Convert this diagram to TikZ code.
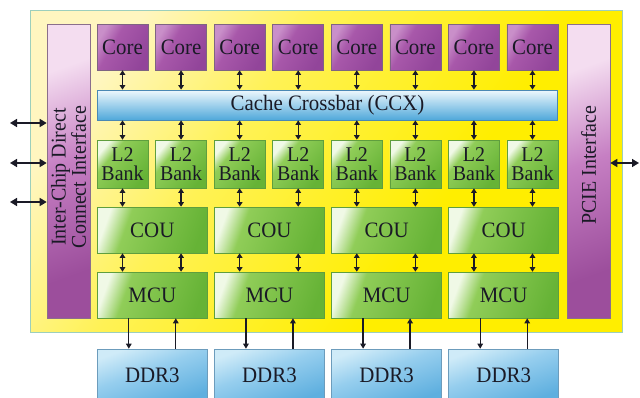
\documentclass[tikz,border=0pt]{standalone}
\usepackage{fontspec}
\setmainfont{Liberation Serif}[FakeStretch=0.95]
\usetikzlibrary{arrows.meta}

% palette
\definecolor{ink}{HTML}{1A1A26}
\definecolor{frameline}{HTML}{9CCFBC}
\definecolor{yA}{HTML}{FFF6C0}
\definecolor{yB}{HTML}{FFF256}
\definecolor{yC}{HTML}{FFEE00}
\definecolor{pbA}{HTML}{F4DDF0}
\definecolor{pbB}{HTML}{C67FC3}
\definecolor{pbC}{HTML}{9C4E9C}
\definecolor{pbline}{HTML}{8A6E8C}
\definecolor{coA}{HTML}{C98FC9}
\definecolor{coB}{HTML}{A858AA}
\definecolor{coC}{HTML}{92459A}
\definecolor{coline}{HTML}{7E6482}
\definecolor{gA}{HTML}{F0F9E6}
\definecolor{gB}{HTML}{90CD58}
\definecolor{gC}{HTML}{66B336}
\definecolor{gline}{HTML}{5F9E3E}
\definecolor{bxA}{HTML}{EEF8FD}
\definecolor{bxB}{HTML}{9FD3F0}
\definecolor{bxC}{HTML}{4FA8DA}
\definecolor{bxline}{HTML}{4A88B4}
\definecolor{dA}{HTML}{CFEBF8}
\definecolor{dB}{HTML}{96CEEE}
\definecolor{dC}{HTML}{5EAFDF}
\definecolor{dline}{HTML}{6C9CBC}

% gradients (path bounding box spans 25bp..75bp)
\pgfdeclarehorizontalshading{yellowfill}{100bp}{color(0bp)=(yA); color(25bp)=(yA); color(40bp)=(yB); color(62bp)=(yC); color(100bp)=(yC)}
\pgfdeclarehorizontalshading{sidefill}{100bp}{color(0bp)=(pbA); color(28bp)=(pbA); color(48bp)=(pbB); color(72bp)=(pbC); color(100bp)=(pbC)}
\pgfdeclarehorizontalshading{corefill}{100bp}{color(0bp)=(coA); color(25bp)=(coA); color(40bp)=(coB); color(75bp)=(coC); color(100bp)=(coC)}
\pgfdeclarehorizontalshading{greenfill}{100bp}{color(0bp)=(gA); color(25bp)=(gA); color(36bp)=(gB); color(75bp)=(gC); color(100bp)=(gC)}
\pgfdeclarehorizontalshading{ddrfill}{100bp}{color(0bp)=(dA); color(25bp)=(dA); color(45bp)=(dB); color(75bp)=(dC); color(100bp)=(dC)}

\begin{document}
\begin{tikzpicture}[x=1pt,y=-1pt,
  txt/.style={text=ink, inner sep=0pt},
  corebox/.style={txt, shading=corefill, shading angle=-30, draw=coline, line width=0.6pt,
    minimum width=51pt, minimum height=46pt, font=\fontsize{22}{22}\selectfont},
  l2box/.style={txt, shading=greenfill, shading angle=-40, draw=gline, line width=0.6pt,
    minimum width=51pt, minimum height=48pt, align=center, font=\fontsize{21}{19}\selectfont},
  greenbox/.style={txt, shading=greenfill, shading angle=-20, draw=gline, line width=0.6pt,
    minimum width=110pt, minimum height=46pt, font=\fontsize{22}{22}\selectfont},
  ddrbox/.style={txt, shading=ddrfill, shading angle=-70, draw=dline, line width=0.6pt,
    minimum width=110pt, minimum height=52pt, font=\fontsize{22}{22}\selectfont},
  ccxbox/.style={txt, top color=bxA, middle color=bxB, bottom color=bxC, draw=bxline, line width=0.7pt,
    minimum width=460pt, minimum height=30pt, font=\fontsize{22}{22}\selectfont},
  sidebar/.style={shading=sidefill, shading angle=-70, draw=pbline, line width=0.6pt,
    minimum width=43pt, minimum height=294pt, inner sep=0pt},
  sidetext/.style={txt, rotate=90, align=center, font=\fontsize{21}{19}\selectfont},
  biarrow/.style={draw=ink, line width=1.3pt, >={Triangle[width=5.5pt,length=4.5pt]}, <->},
  onearrow/.style={draw=ink, line width=1.2pt, >={Triangle[width=5.5pt,length=5pt]}, ->},
  extarrow/.style={draw=ink, line width=1.5pt, >={Triangle[width=8pt,length=7pt]}, <->}
]
\useasboundingbox (0,0) rectangle (640,397);
\fill[white] (0,0) rectangle (640,397);

% chip outline
\shadedraw[shading=yellowfill, shading angle=-35, draw=frameline, line width=0.9pt]
  (30,10) rectangle (622,332);

% side interfaces
\node[sidebar] (icd) at (68.5,171) {};
\node[sidetext] (icdlabel) at (68.5,177) {Inter-Chip Direct\\Connect Interface};
\node[sidebar] (pcie) at (588.5,171) {};
\node[sidetext] (pcielabel) at (588.5,165) {PCIE Interface};

% cores and L2 banks
\foreach \i in {1,...,8} {
  \pgfmathsetmacro\cx{122.5+58.57*(\i-1)}
  \node[corebox] (core\i) at (\cx,47) {Core};
  \node[l2box] (l2\i) at (\cx,164) {L2\\Bank};
}

% crossbar
\node[ccxbox] (ccx) at (327.5,105) {Cache Crossbar (CCX)};

% coherence units, memory controllers, DRAM
\foreach \j in {1,...,4} {
  \pgfmathsetmacro\ux{152.3+117.14*(\j-1)}
  \node[greenbox] (cou\j) at (\ux,230) {COU};
  \node[greenbox] (mcu\j) at (\ux,295) {MCU};
  \node[ddrbox] (ddr\j) at (\ux,375) {DDR3};
}

% core <-> crossbar <-> L2
\foreach \i in {1,...,8} {
  \draw[biarrow] (core\i.south) -- (core\i.south |- ccx.north);
  \draw[biarrow] (ccx.south -| l2\i) -- (l2\i.north);
}

% L2 <-> COU <-> MCU, MCU <-> DDR3
\foreach \j/\a/\b in {1/1/2, 2/3/4, 3/5/6, 4/7/8} {
  \foreach \k in {\a,\b} {
    \draw[biarrow] (l2\k.south) -- (l2\k.south |- cou\j.north);
    \draw[biarrow] (cou\j.south -| l2\k) -- (mcu\j.north -| l2\k);
  }
  \draw[onearrow] ([xshift=-23.5pt]mcu\j.south) -- ([xshift=-23.5pt]ddr\j.north);
  \draw[onearrow] ([xshift=23.5pt]ddr\j.north) -- ([xshift=23.5pt]mcu\j.south);
}

% off-chip links
\coordinate (ext1) at (10,123);
\coordinate (ext2) at (10,163);
\coordinate (ext3) at (10,202);
\coordinate (ext4) at (639,163);
\foreach \e in {ext1,ext2,ext3}
  \draw[extarrow] (\e) -- (\e -| icd.west);
\draw[extarrow] (pcie.east |- ext4) -- (ext4);
\end{tikzpicture}
\end{document}
